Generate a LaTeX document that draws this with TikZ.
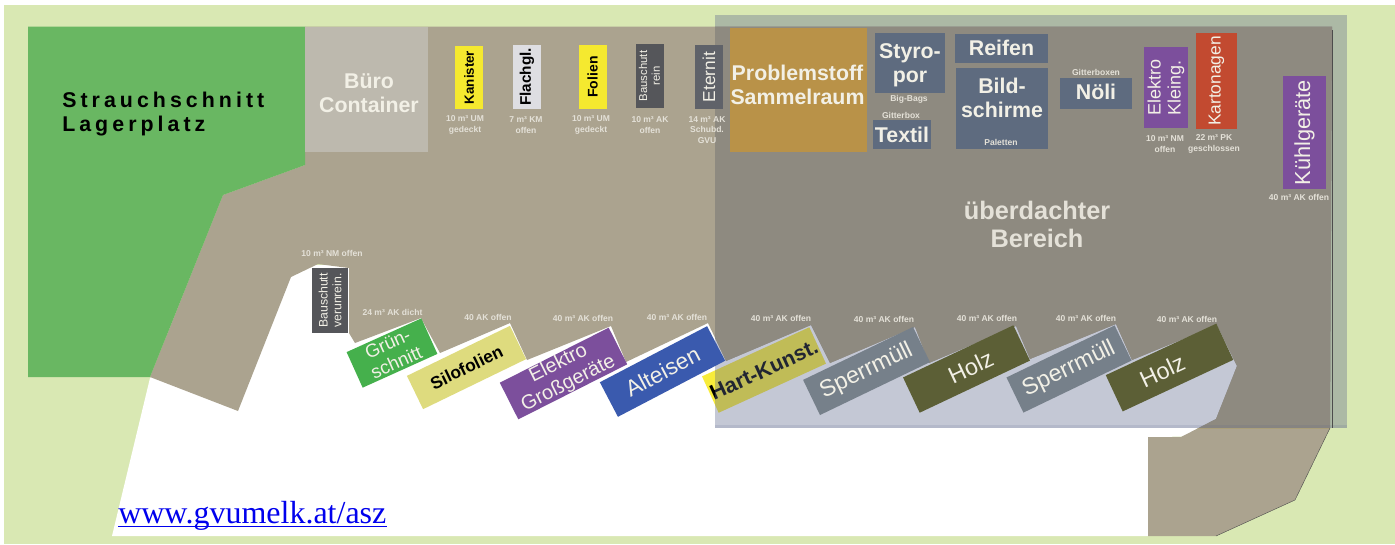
\documentclass[tikz,border=0pt]{standalone}
\usepackage{fontspec}
\setmainfont{Liberation Sans}
\newfontfamily\spacedfont[LetterSpace=19]{Liberation Sans}
\newfontfamily\linkfont{Liberation Serif}
\definecolor{meadow}{HTML}{D9E8B3}
\definecolor{yardtan}{HTML}{ABA38F}
\definecolor{roofedtan}{HTML}{AA9F7A}
\definecolor{shrub}{HTML}{69B762}
\definecolor{office}{HTML}{BDB9AE}
\definecolor{roofgray}{HTML}{5E678D}
\definecolor{signyellow}{HTML}{F5E92F}
\definecolor{glasspale}{HTML}{DEDEE2}
\definecolor{slategray}{HTML}{5E6B7F}
\definecolor{darkgray}{HTML}{55565A}
\definecolor{eternitgray}{HTML}{5F6269}
\definecolor{violet}{HTML}{7C4F9C}
\definecolor{cardred}{HTML}{C24A30}
\definecolor{storebrown}{HTML}{B99248}
\definecolor{grassgreen}{HTML}{45B04C}
\definecolor{foilpale}{HTML}{DEDB7E}
\definecolor{scrapblue}{HTML}{3A5AAE}
\definecolor{bulkgray}{HTML}{76808A}
\definecolor{woodolive}{HTML}{5C5F36}
\definecolor{hardyellow}{HTML}{F8EC3A}
\definecolor{notetext}{HTML}{E4E1D8}
\definecolor{softwhite}{HTML}{F2F0E6}
\tikzset{
  yardbox/.style n args={3}{minimum width=#1*0.75pt,minimum height=#2*0.75pt,fill=#3,inner sep=0pt,align=center},
  txt/.style 2 args={font=\fontsize{#1}{#1}\selectfont#2\setlength\baselineskip{1.12em},inner sep=0pt,align=center},
  note/.style={font=\fontsize{6.4}{6.4}\selectfont\bfseries\setlength\baselineskip{8pt},text=notetext,inner sep=0pt,align=center}
}
\def\pavedpath{(305,26.5) -- (1332,26.5) -- (1330,428) -- (1295,500) -- (1216,536) -- (1148,536) -- (1148,437) -- (1181,437) -- (1216,419) -- (1237,366)
  -- (1217,325) -- (1132,360) -- (1116,324) -- (1030,359) -- (1016,326) -- (929,363) -- (915,327) -- (830,363) -- (811,325) -- (726,361)
  -- (708,323) -- (626,362) -- (611,326) -- (527,360) -- (510,323) -- (440,353) -- (421,318) -- (355,343) -- (349,333) -- (349,268) -- (318,264) -- (291,277) -- (238,411) -- (150,377) -- (223,195) -- (305,165) -- cycle}
\begin{document}
\begin{tikzpicture}[x=0.75pt,y=-0.75pt,line join=round]
\useasboundingbox (0,0) rectangle (1395,544);
\fill[white] (0,0) rectangle (1395,544);
\fill[meadow] (4,5) rectangle (1395,544);
% open yard
\fill[white] (112,536) -- (150,378) -- (300,265) -- (340,265) -- (349,260) -- (1240,300) -- (1240,436) -- (1148,437) -- (1148,536) -- cycle;
% paved area
\fill[yardtan] \pavedpath;
\begin{scope}
\clip (715,0) rectangle (1395,428);
\fill[roofedtan] \pavedpath;
\end{scope}
\draw[black!70,line width=0.3pt] (1330,428) -- (1295,500) -- (1216,536);
\fill[shrub] (28,26.5) -- (305,26.5) -- (305,165) -- (223,195) -- (150,377) -- (28,377) -- cycle;
\node[yardbox={123}{125}{office}] (buero) at (366.5,89.5) {};
\node[txt={16}{\bfseries},text=softwhite] (buerotext) at (369,93.5) {B\"uro\\Container};
\node[anchor=west,inner sep=0pt,align=left,font=\spacedfont\fontsize{16}{16}\selectfont\bfseries\setlength\baselineskip{18pt}] (strauch) at (62,114) {Strauchschnitt\\Lagerplatz};
% this one lies half under the roof
\node[yardbox={118}{40}{hardyellow},rotate=24.6,txt={16}{\bfseries}] (hart) at (764,370) {Hart-Kunst.};
\fill[roofgray,opacity=0.36] (715,15) rectangle (1347,428);
\fill[roofgray,opacity=0.15] (715,424.5) rectangle (1347,428);
\draw[black!70,line width=0.4pt] (1332,30) -- (1332,428);
% boxes along the top
\foreach \n/\x/\y/\w/\h/\c/\f/\b/\t/\l in {kanister/469/77.5/63/28/signyellow/10/\bfseries/black/Kanister,
  flachgl/527/77/64/28/glasspale/11.5/\bfseries/black/Flachgl.,
  folien/592.5/77/64/28/signyellow/10.5/\bfseries/black/Folien,
  schuttrein/649.5/76/64/28/darkgray/8.5/\mdseries/softwhite/{Bauschutt\\rein},
  eternit/709/77/64/28/eternitgray/13/\mdseries/softwhite/Eternit,
  eleing/1166/87.5/81/44.5/violet/13.5/\mdseries/softwhite/{Elektro\\Kleing.},
  karton/1216.5/81/96/41/cardred/13/\mdseries/softwhite/Kartonagen,
  kuehl/1304.5/132.5/113/43/violet/16.3/\mdseries/softwhite/K\"uhlger\"ate,
  schuttver/330/300.5/65/36/darkgray/9.2/\mdseries/softwhite/{Bauschutt\\verunrein.}}
  {\node[yardbox={\w}{\h}{\c},rotate=90,txt={\f}{\b},text=\t] (\n) at (\x,\y) {\l};}
% gray boxes and store room
\node[yardbox={137.5}{124}{storebrown}] (problem) at (798.5,90) {};
\node[txt={16}{\bfseries},text=softwhite] (problemtext) at (797.5,85) {Problemstoff\\Sammelraum};
\foreach \n/\x/\y/\w/\h/\d/\l in {styropor/910/63/70/60/2/{Styro-\\por},
  textil/902/134.5/57.5/29/0/Textil,
  reifen/1001.5/48.5/93/29/-1/Reifen,
  bild/1002/108.5/92/81/-10.5/{Bild-\\schirme},
  noeli/1096/93.5/72.5/31/-2/N\"oli}
  {\node[yardbox={\w}{\h}{slategray}] (\n) at (\x,\y) {};
   \node[txt={16}{\bfseries},text=softwhite] (\n text) at (\x,\y+\d) {\l};}
\node[txt={19}{\bfseries},text=notetext] (roof) at (1037,224.5) {\"uberdachter\\Bereich};
% tilted boxes along the road
\foreach \n/\x/\y/\w/\h/\a/\c/\f/\b/\t/\l in {gruen/392/353/82/39/24.3/grassgreen/14/\mdseries/softwhite/{Gr\"un-\\schnitt},
  silo/466.5/367.5/114.5/37/25.9/foilpale/13/\bfseries/black/Silofolien,
  grossg/563.5/373.5/122/38.5/26.8/violet/15/\mdseries/softwhite/{Elektro\\Gro\ss ger\"ate},
  alt/662.5/371.5/121/39/27.6/scrapblue/17/\mdseries/softwhite/Alteisen,
  sperra/866.5/371/122/39/25.7/bulkgray/17.5/\mdseries/softwhite/Sperrm\"ull,
  holza/966.5/369/122/39/25.3/woodolive/17.5/\mdseries/softwhite/\hspace*{7pt}Holz,
  sperrb/1069/369/120/39/25.7/bulkgray/17.5/\mdseries/softwhite/Sperrm\"ull,
  holzb/1169.5/367.5/122/40/25/woodolive/17.5/\mdseries/softwhite/Holz\hspace*{12pt}}
  {\node[yardbox={\w}{\h}{\c},rotate=\a,txt={\f}{\b},text=\t] (\n) at (\x,\y) {\l};}
% small notes
\foreach \x/\y/\l [count=\i] in {465/125/{10 m³ UM\\gedeckt},526/125/{7 m³ KM\\offen},591/125/{10 m³ UM\\gedeckt},650/125/{10 m³ AK\\offen},707/130/{14 m³ AK\\Schubd.\\GVU},
  909/99/Big-Bags,901/115/Gitterbox,1001/142/Paletten,1096/72/Gitterboxen,1165/144/{10 m³ NM\\offen},1214/144/{22 m³ PK\\geschlossen},1299/197/40 m³ AK offen,
  332/253/10 m³ NM offen,392.5/312/24 m³ AK dicht,488/317/40 AK offen,583/318/40 m³ AK offen,677/317/40 m³ AK offen,781/318/40 m³ AK offen,884/319/40 m³ AK offen,987/318/40 m³ AK offen,1086/318/40 m³ AK offen,1187/319/40 m³ AK offen}
  {\node[note] (note\i) at (\x,\y) {\l};}
\node[anchor=base west,inner sep=0pt,text=blue!93!black,font=\linkfont\fontsize{24}{24}\selectfont] (link) at (118,523) {www.gvumelk.at/asz};
\draw[blue!93!black,line width=0.8pt] ([yshift=-2.6pt]link.base west) -- ([yshift=-2.6pt]link.base east);
\end{tikzpicture}
\end{document}
